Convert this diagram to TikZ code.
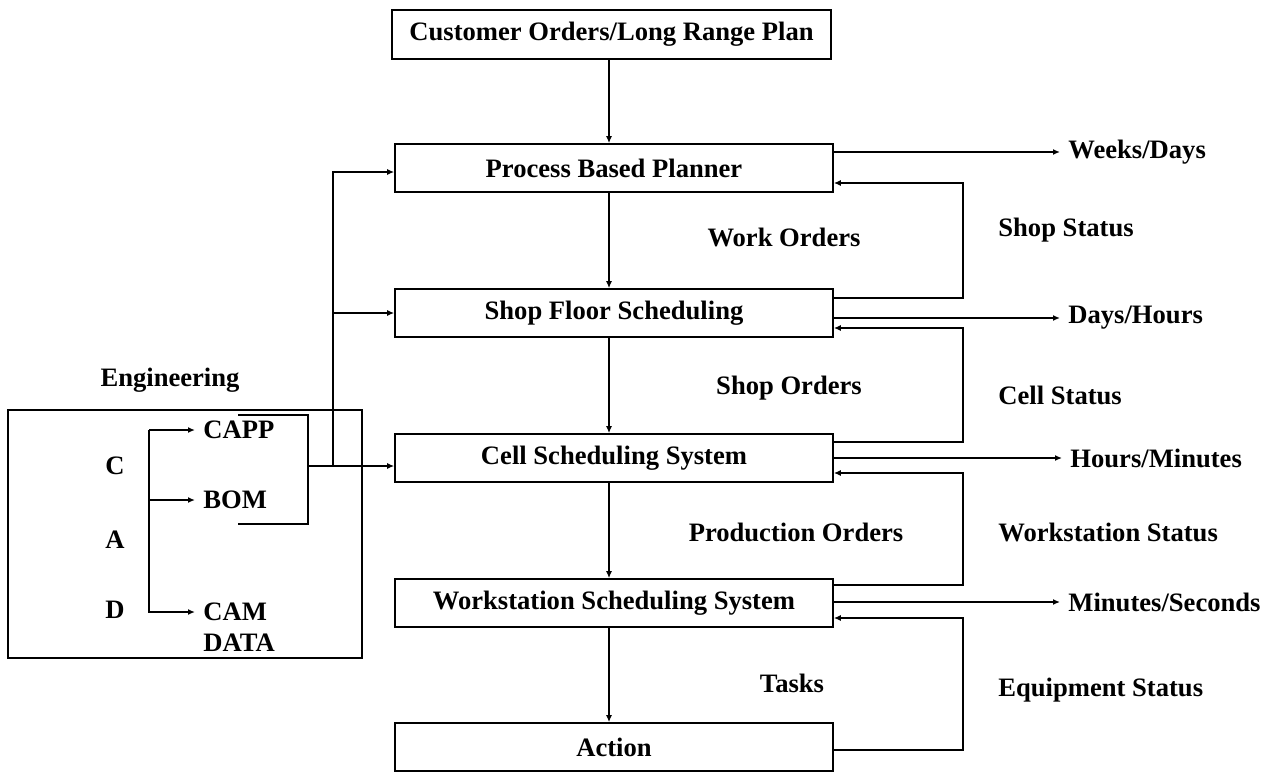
\documentclass[tikz,border=0pt]{standalone}
\usepackage{fontspec}
\setmainfont{Liberation Serif}
\usetikzlibrary{arrows.meta}

\begin{document}
\begin{tikzpicture}[x=0.5pt,y=-0.5pt]
    \tikzset{
        txt/.style={font=\fontsize{13.3}{16}\selectfont\bfseries},
        level/.style={txt, draw, line width=0.8pt, minimum width=219pt, minimum height=24pt, inner sep=0pt},
        lbl/.style={txt, inner sep=4pt},
        ln/.style={line width=0.8pt},
        arr/.style={line width=0.8pt, -{Latex[length=3.5pt,width=3pt]}}
    }
    \useasboundingbox (0,0) rectangle (1277,772);
    \node[level, minimum width=219.5pt, minimum height=24.5pt] (cust) at (611.5,34.5) {Customer Orders/Long Range Plan};
    \foreach \n/\y/\t in {pbp/168/Process Based Planner, sfs/313/Shop Floor Scheduling, css/458/Cell Scheduling System, wss/603/Workstation Scheduling System, act/747/Action}
        \node[level] (\n) at (614,\y) {\t};
    \coordinate (vx) at (609,0);
    \foreach \a/\b in {cust/pbp, pbp/sfs, sfs/css, css/wss, wss/act}
        \draw[arr] (\a.south -| vx) -- (\b.north -| vx);

    \node[lbl] (wo) at (784,237) {Work Orders};
    \node[lbl] (so) at (789,388) {Shop Orders};
    \node[lbl] (po) at (796,532) {Production Orders};
    \node[lbl] (tk) at (792,683) {Tasks};

    \foreach \a/\b/\s in {sfs/pbp/7.5, css/sfs/8, wss/css/9, act/wss/-1.5}
        \draw[arr] ([yshift=\s*1pt]\a.east) -- ++(129,0) |- ([yshift=-7.5pt]\b.east);
    \node[lbl, anchor=west] (ss) at (990,230) {Shop Status};
    \node[lbl, anchor=west] (cs) at (990,395) {Cell Status};
    \node[lbl, anchor=west] (ws) at (990,532) {Workstation Status};
    \node[lbl, anchor=west] (es) at (990,690) {Equipment Status};

    \node[lbl, anchor=west] (wd) at (1060,152) {Weeks/Days};
    \node[lbl, anchor=west] (dh) at (1060,318) {Days/Hours};
    \node[lbl, anchor=west] (hm) at (1062,458) {Hours/Minutes};
    \node[lbl, anchor=west] (ms) at (1060,602) {Minutes/Seconds};
    \foreach \a/\b in {pbp/wd, sfs/dh, css/hm, wss/ms}
        \draw[arr] (\a.east |- \b) -- (\b.west);

    \draw[ln] (8,410) rectangle (362,658);
    \node[lbl] (eng) at (170,380) {Engineering};
    \node[lbl] (c) at (115,466) {C};
    \node[lbl] (a) at (115,540) {A};
    \node[lbl] (d) at (115,610) {D};
    \node[lbl, anchor=west] (capp) at (195,430) {CAPP};
    \node[lbl, anchor=west] (bom) at (195,500) {BOM};
    \node[lbl, anchor=west] (cam) at (195,612) {CAM};
    \node[lbl, anchor=west] (data) at (195,643) {DATA};
    \coordinate (br) at (149,0);
    \draw[arr] (capp.west -| br) |- (cam.west);
    \draw[arr] (capp.west -| br) -- (capp.west);
    \draw[arr] (bom.west -| br) -- (bom.west);
    \draw[ln] (238,415) -| (308,524) -- (238,524);
    \coordinate (bo) at (308,466);
    \coordinate (jn) at (333,466);
    \draw[arr] (bo) -- (css.west |- bo);
    \draw[arr] (jn) |- ([yshift=-2pt]pbp.west);
    \draw[arr] (jn |- sfs.west) -- (sfs.west);
\end{tikzpicture}
\end{document}
